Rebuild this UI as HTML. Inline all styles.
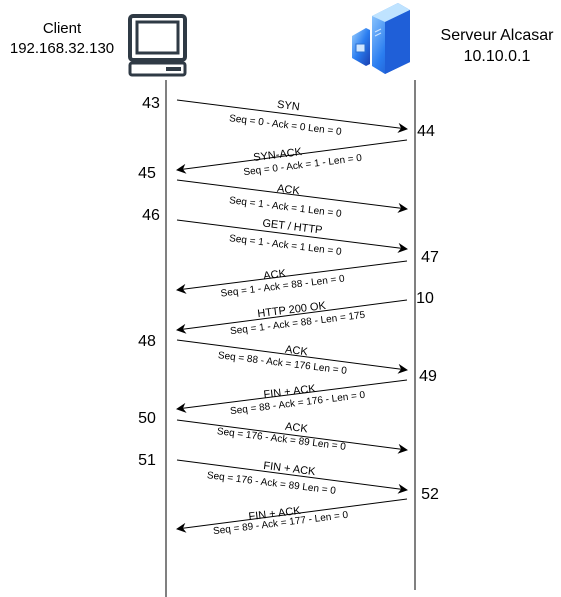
<!DOCTYPE html>
<html><head><style>body{margin:0;background:#fff}svg{display:block}text{font-family:"Liberation Sans",sans-serif;fill:#000}</style></head><body>
<svg width="561" height="597" viewBox="0 0 561 597">
<defs>
<marker id="a" markerWidth="10" markerHeight="10" refX="9" refY="5" orient="auto" markerUnits="userSpaceOnUse"><path d="M0,0 L10,5 L0,10 L3,5 z" fill="#000"/></marker>
<linearGradient id="g" x1="0" y1="0" x2="1" y2="1"><stop offset="0" stop-color="#9fd3ff"/><stop offset="0.5" stop-color="#2a7df0"/><stop offset="1" stop-color="#1a3fb0"/></linearGradient>
</defs>
<rect x="130" y="16" width="55" height="44" rx="3" fill="none" stroke="#2f3a45" stroke-width="4"/>
<rect x="137" y="22" width="41" height="31" fill="none" stroke="#2f3a45" stroke-width="3"/>
<rect x="130" y="63" width="55" height="12" rx="2" fill="none" stroke="#2f3a45" stroke-width="3"/>
<rect x="166" y="67" width="15" height="4" fill="#2f3a45"/>
<text x="62" y="33" font-size="15" text-anchor="middle">Client</text>
<text x="62" y="53" font-size="15" text-anchor="middle">192.168.32.130</text>
<polygon points="382,36 396,28 400,30 400,64 396,66 382,58" fill="url(#g)" transform="translate(-30,0)"/>
<rect x="356" y="44" width="9" height="8" fill="#cfe6ff" stroke="#2a6fd0"/>
<polygon points="372,16 398,3 410,10 410,62 385,74 372,66" fill="url(#g)"/>
<polygon points="372,16 398,3 410,10 385,22" fill="#bfe3ff"/>
<polygon points="385,22 410,10 410,62 385,74" fill="#1f5fd8"/>
<line x1="375" y1="32" x2="381" y2="29" stroke="#cfe6ff"/><line x1="375" y1="36" x2="381" y2="33" stroke="#cfe6ff"/>
<text x="497" y="40" font-size="16" text-anchor="middle">Serveur Alcasar</text>
<text x="497" y="61" font-size="16" text-anchor="middle">10.10.0.1</text>
<line x1="166" y1="80" x2="166" y2="597" stroke="#000"/>
<line x1="415" y1="80" x2="415" y2="590" stroke="#000"/>
<g stroke="#000" stroke-width="1" marker-end="url(#a)">
<line x1="177" y1="100" x2="407" y2="129"/>
<line x1="407" y1="140" x2="177" y2="170"/>
<line x1="177" y1="180" x2="407" y2="209"/>
<line x1="177" y1="220" x2="407" y2="249"/>
<line x1="407" y1="261" x2="177" y2="290"/>
<line x1="407" y1="300" x2="177" y2="330"/>
<line x1="177" y1="340" x2="407" y2="370"/>
<line x1="407" y1="380" x2="177" y2="409"/>
<line x1="177" y1="420" x2="407" y2="450"/>
<line x1="177" y1="460" x2="407" y2="490"/>
<line x1="407" y1="499" x2="177" y2="529"/>
</g>
<g font-size="11" text-anchor="middle">
<text transform="translate(288,109) rotate(7)">SYN</text>
<text transform="translate(285,128) rotate(7)" font-size="10">Seq = 0 - Ack = 0  Len = 0</text>
<text transform="translate(278,158) rotate(-7)">SYN-ACK</text>
<text transform="translate(303,168) rotate(-7)" font-size="10">Seq = 0 - Ack = 1 - Len = 0</text>
<text transform="translate(288,193) rotate(7)">ACK</text>
<text transform="translate(285,210) rotate(7)" font-size="10">Seq = 1 - Ack = 1  Len = 0</text>
<text transform="translate(292,230) rotate(7)">GET / HTTP</text>
<text transform="translate(285,248) rotate(7)" font-size="10">Seq = 1 - Ack = 1  Len = 0</text>
<text transform="translate(275,278) rotate(-7)">ACK</text>
<text transform="translate(283,289) rotate(-7)" font-size="10">Seq = 1 - Ack = 88 - Len = 0</text>
<text transform="translate(292,313) rotate(-7)">HTTP 200 OK</text>
<text transform="translate(298,326) rotate(-7)" font-size="10">Seq = 1 - Ack = 88 - Len = 175</text>
<text transform="translate(296,354) rotate(7)">ACK</text>
<text transform="translate(282,366) rotate(7)" font-size="10">Seq = 88 - Ack = 176  Len = 0</text>
<text transform="translate(290,395) rotate(-7)">FIN + ACK</text>
<text transform="translate(298,406) rotate(-7)" font-size="10">Seq = 88 - Ack = 176 - Len = 0</text>
<text transform="translate(296,431) rotate(7)">ACK</text>
<text transform="translate(281,442) rotate(7)" font-size="10">Seq = 176 - Ack = 89  Len = 0</text>
<text transform="translate(289,472) rotate(7)">FIN + ACK</text>
<text transform="translate(271,486) rotate(7)" font-size="10">Seq = 176 - Ack = 89  Len = 0</text>
<text transform="translate(275,517) rotate(-7)">FIN + ACK</text>
<text transform="translate(281,526) rotate(-7)" font-size="10">Seq = 89 - Ack = 177 - Len = 0</text>
</g>
<g font-size="16" text-anchor="middle">
<text x="151" y="108">43</text>
<text x="426" y="136">44</text>
<text x="147" y="178">45</text>
<text x="151" y="220">46</text>
<text x="430" y="262">47</text>
<text x="425" y="303">10</text>
<text x="147" y="346">48</text>
<text x="428" y="381">49</text>
<text x="147" y="423">50</text>
<text x="147" y="465">51</text>
<text x="430" y="499">52</text>
</g>
</svg>
</body></html>
